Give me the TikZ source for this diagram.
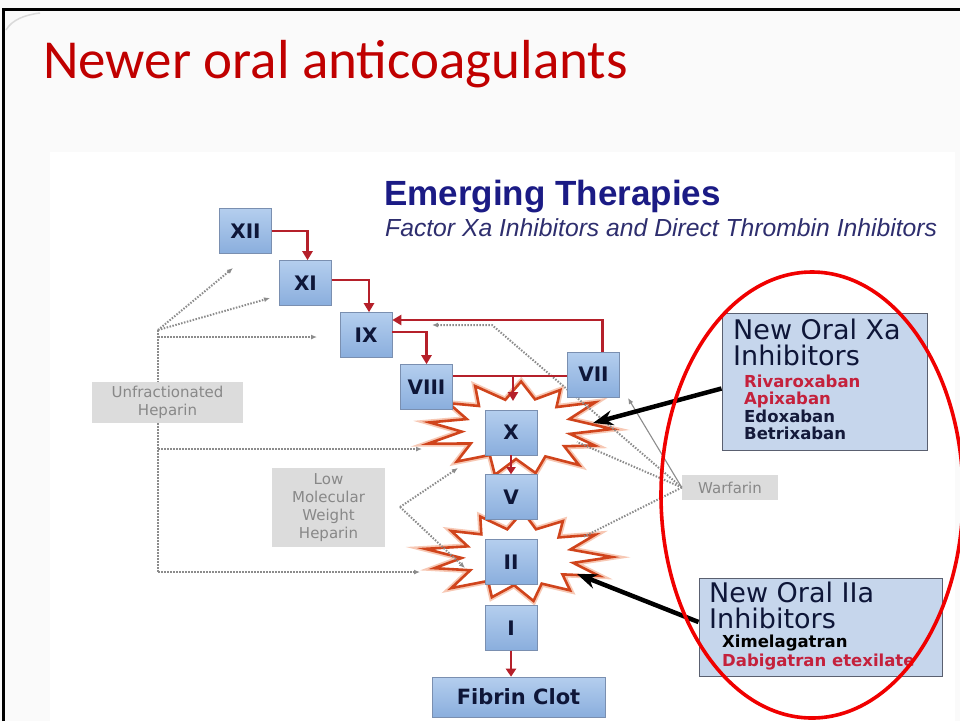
\documentclass[tikz,border=0pt]{standalone}
\usepackage{fontspec}
\setmainfont{DejaVu Sans}
\newfontfamily\titlefont{Carlito}
\newfontfamily\arialfont{Liberation Sans}
\usetikzlibrary{arrows.meta,calc}
\definecolor{titlered}{HTML}{C00000}
\definecolor{navy}{HTML}{1B1B85}
\definecolor{subnavy}{HTML}{2E2E6E}
\definecolor{boxtxt}{HTML}{0E1638}
\definecolor{arrred}{HTML}{B5202A}
\definecolor{burstc}{HTML}{D0441C}
\definecolor{burstglow}{HTML}{F7C8B4}
\definecolor{grayln}{HTML}{8C8C8C}
\definecolor{graytxt}{HTML}{888888}
\definecolor{grayfill}{HTML}{DCDCDC}
\definecolor{infofill}{HTML}{C6D6EC}
\definecolor{infoborder}{HTML}{5A6070}
\definecolor{drugred}{HTML}{C4213C}
\definecolor{drugdark}{HTML}{141A3A}
\definecolor{factborder}{HTML}{7A8FB0}
\definecolor{facttop}{HTML}{B4CEEE}
\definecolor{factbot}{HTML}{8AAEDD}
\definecolor{pagebg}{HTML}{FAFAFA}
\definecolor{ellred}{HTML}{F00000}
\newcommand\fs[2]{\fontsize{#1}{#2}\selectfont}
\newcommand\burstat[4]{%
  \draw[burst] ($(#1)+(0:#3 and #4)$)
    \foreach \a/\f in #2 { -- ($(#1)+(\a:{#3*\f} and {#4*\f})$) } -- cycle;}
\def\burstA{10/0.56,22/0.88,35/0.6,48/0.97,62/0.62,78/0.9,92/0.6,105/0.95,120/0.6,135/0.92,150/0.58,163/1.0,175/0.6,188/0.95,200/0.58,215/0.9,228/0.62,242/0.97,257/0.6,272/0.95,287/0.62,300/0.9,313/0.6,327/0.98,340/0.58}
\def\burstB{12/0.6,25/0.95,38/0.6,52/0.9,66/0.62,80/0.95,94/0.6,108/0.9,122/0.6,137/0.97,151/0.58,165/0.92,178/0.6,190/1.0,203/0.58,218/0.9,231/0.62,245/0.95,259/0.6,273/0.97,288/0.62,302/0.9,316/0.6,330/0.95,344/0.58}
\tikzset{
  factor/.style={draw=factborder, line width=0.6pt,
    top color=facttop, bottom color=factbot,
    minimum width=52pt, minimum height=45pt, inner sep=0pt,
    font=\bfseries\fs{20}{24}, text=boxtxt},
  graylbl/.style={fill=grayfill, text=graytxt, font=\fs{15}{18}, align=center, inner sep=0pt},
  infobox/.style={fill=infofill, draw=infoborder, line width=1pt, inner sep=0pt},
  burst/.style={draw=burstc, line width=2.6pt, fill=white, line join=miter,
    preaction={draw=burstglow, line width=6pt}},
  redarr/.style={draw=arrred, line width=2.8pt, -{Triangle[length=9pt,width=10pt]}},
  redline/.style={draw=arrred, line width=2.8pt},
  grayline/.style={draw=grayln, line width=2pt, dash pattern=on 1.5pt off 1.5pt},
  grayarr/.style={grayline, -{Latex[length=6pt,width=5pt]}},
  blackarr/.style={draw=black, line width=4.5pt, -{Stealth[length=20pt,width=15pt]}},
  headtxt/.style={anchor=base west, inner sep=0pt, font=\fs{27}{27}, text=boxtxt},
  drug/.style={anchor=base west, inner sep=0pt, font=\bfseries\fs{16.5}{18}},
}
\begin{document}
\begin{tikzpicture}[x=1pt,y=-1pt]
\useasboundingbox (0,0) rectangle (960,721);
% background
\fill[pagebg] (0,0) rectangle (960,721);
\fill[white] (50,152) rectangle (955,721);
% frame
\draw[black, line width=3pt] (3.5,721) -- (3.5,9.5) -- (960,9.5);
\draw[gray!30, line width=1.5pt] (6,30) .. controls (12,20) and (24,15) .. (40,13);
% title
\node[anchor=base west, inner sep=0pt, text=titlered, font=\titlefont\fs{55}{60}] (title) at (43,78) {Newer oral anticoagulants};
\node[anchor=base west, inner sep=0pt, text=navy, font=\arialfont\bfseries\fs{35}{40}] (emerg) at (384,205) {Emerging Therapies};
\node[anchor=base west, inner sep=0pt, text=subnavy, font=\arialfont\itshape\fs{24.7}{28}] (sub) at (385,236) {Factor Xa Inhibitors and Direct Thrombin Inhibitors};
% bursts
\coordinate (bx) at (518,429);
\coordinate (bii) at (518,557);
\burstat{bx}{\burstA}{94}{50}
\burstat{bii}{\burstB}{94}{47}
% gray label boxes
\node[graylbl, minimum width=151pt, minimum height=41pt] (UFH) at (167.5,402.5) {Unfractionated\\Heparin};
\node[graylbl, minimum width=113pt, minimum height=79pt] (LMWH) at (328.5,507.5) {Low\\Molecular\\Weight\\Heparin};
\node[graylbl, minimum width=96pt, minimum height=25pt] (W) at (730,487.5) {Warfarin};
% gray dotted connectors
\coordinate (u0) at (158,330);
\coordinate (ut1) at (233,268);
\coordinate (ut2) at (270,298);
\coordinate (u3) at (158,337);
\coordinate (ut3) at (317,337);
\coordinate (u4) at (158,449);
\coordinate (ut4) at (422,449);
\coordinate (u5) at (158,572);
\coordinate (ut5) at (420,572);
\draw[grayarr] (u0) -- (ut1);
\draw[grayarr] (u0) -- (ut2);
\draw[grayarr] (u3) -- (ut3);
\draw[grayline] (u0) -- (u0|-UFH.north);
\draw[grayline] (u0|-UFH.south) -- (u5);
\draw[grayarr] (u4) -- (ut4);
\draw[grayarr] (u5) -- (ut5);
\coordinate (l0) at (400,507);
\coordinate (lt1) at (458,468);
\coordinate (lt2) at (465,568);
\draw[grayarr] (l0) -- (lt1);
\draw[grayarr] (l0) -- (lt2);
\coordinate (w1) at (492,325);
\coordinate (wt1) at (432,325);
\coordinate (wt2) at (628,398);
\coordinate (wt3) at (577,442);
\coordinate (wt4) at (583,537);
\draw[grayarr] (W.west) -- (w1) -- (wt1);
\draw[draw=grayln, line width=1.1pt, -{Latex[length=6pt,width=5pt]}] (W.west) -- (wt2);
\draw[grayline] (W.west) -- (wt3);
\draw[grayline] (W.west) -- (wt4);
% factor boxes
\node[factor] (XII) at (245.5,231) {XII};
\node[factor] (XI) at (305.5,283) {XI};
\node[factor] (IX) at (366,335) {IX};
\node[factor] (VIII) at (426.5,387) {VIII};
\node[factor] (VII) at (593.5,374.5) {VII};
\node[factor] (X) at (511,432.5) {X};
\node[factor] (V) at (511,497) {V};
\node[factor] (II) at (511,562) {II};
\node[factor] (I) at (511,628) {I};
\node[factor, minimum width=173pt, minimum height=40pt, font=\bfseries\fs{21}{24}] (FC) at (518.5,697) {Fibrin Clot};
% red cascade connectors
\draw[redarr] (XII.east) -| ([xshift=2pt]XI.north);
\draw[redarr] ([yshift=3pt]XI.east) -| ([xshift=3pt]IX.north);
\draw[redarr] ([yshift=3pt]IX.east) -| (VIII.north);
\draw[redarr] ([xshift=9pt]VII.north) |- ([yshift=15pt]IX.east);
\coordinate (jn) at (513,376);
\coordinate (xin) at (513,401);
\draw[redline] ([yshift=11pt]VIII.east) -- (jn) -- (VII.west|-jn);
\draw[redarr] (jn) -- (xin);
\draw[redarr, -{Triangle[length=7pt,width=9pt]}] (X.south) -- (V.north);
\draw[redarr, -{Triangle[length=8pt,width=10pt]}] (I.south) -- (I.south|-FC.north);
% info boxes
\node[infobox, minimum width=205pt, minimum height=137pt] (XA) at (824.5,381.5) {};
\node[headtxt] (xa1) at (733,339) {New Oral Xa};
\node[headtxt] (xa2) at (733,365) {Inhibitors};
\node[drug, text=drugred] (d1) at (744,387) {Rivaroxaban};
\node[drug, text=drugred] (d2) at (744,404) {Apixaban};
\node[drug, text=drugdark] (d3) at (744,422) {Edoxaban};
\node[drug, text=drugdark] (d4) at (744,439) {Betrixaban};
\node[infobox, minimum width=243pt, minimum height=98pt] (IIA) at (820.5,627) {};
\node[headtxt] (ii1) at (709,602) {New Oral IIa};
\node[headtxt] (ii2) at (709,628) {Inhibitors};
\node[drug, text=black] (d5) at (722,647) {Ximelagatran};
\node[drug, text=drugred] (d6) at (722,666) {Dabigatran etexilate};
% black arrows
\coordinate (bt1) at (593,423);
\coordinate (bt2) at (577,574);
\draw[blackarr] ([yshift=-7pt]XA.west) -- (bt1);
\draw[blackarr] ([yshift=5pt]IIA.west) -- (bt2);
% red ellipse
\draw[draw=ellred, line width=3.6pt] (812,495) ellipse [x radius=151, y radius=223];
\end{tikzpicture}
\end{document}
